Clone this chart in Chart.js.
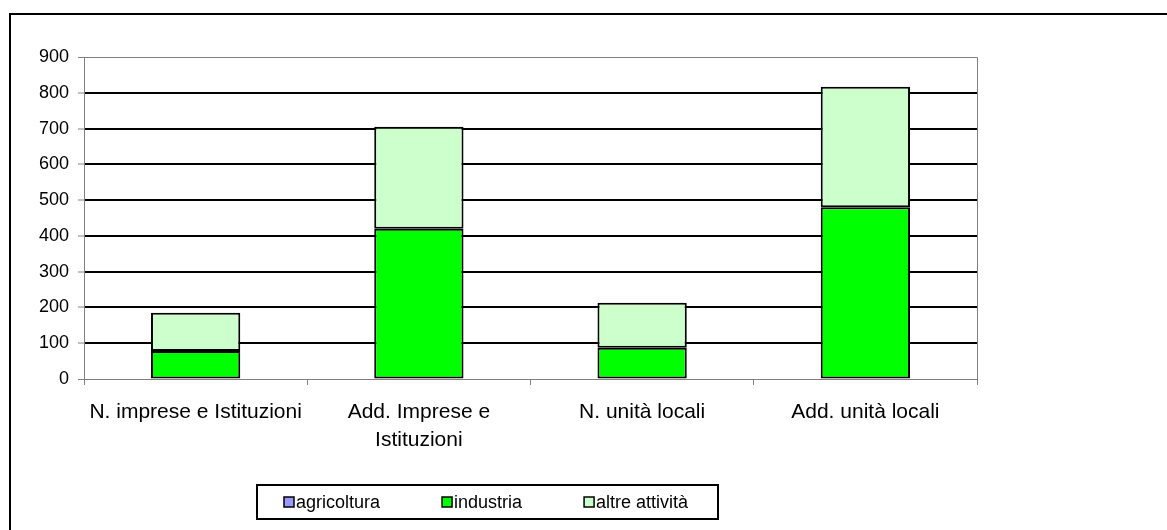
<!DOCTYPE html>
<html>
<head>
<meta charset="utf-8">
<script src="https://cdn.jsdelivr.net/npm/chart.js@4"></script>
<style>
  html, body { margin: 0; padding: 0; background: #fff; }
  #wrap { position: relative; width: 1167px; height: 530px; overflow: hidden; }
  canvas { position: absolute; left: 0; top: 0; }
</style>
</head>
<body>
<div id="wrap"><canvas id="grafico" width="1167" height="530"></canvas></div>
<script>
const categorie = ["N. imprese e Istituzioni", ["Add. Imprese e", "Istituzioni"], "N. unità locali", "Add. unità locali"];
const agricoltura = [0, 0, 0, 0];
const industria = [78, 420, 87, 480];
const altreAttivita = [107, 285, 126, 337];
const tickY = [0, 100, 200, 300, 400, 500, 600, 700, 800, 900];

const GRIGIO = "#808080";
const FONT = "'Liberation Sans', Arial, sans-serif";

Chart.defaults.font.family = FONT;
Chart.defaults.font.size = 18;
Chart.defaults.color = "#000";

// cornice esterna, bordo destro dell'area del grafico e legenda incorniciata
const decorazioni = {
    id: "decorazioni",
    beforeDraw(chart) {
        const ctx = chart.ctx;
        ctx.save();
        ctx.strokeStyle = "#000";
        ctx.lineWidth = 2;
        ctx.beginPath();
        ctx.moveTo(10, 600);
        ctx.lineTo(10, 14);
        ctx.lineTo(1200, 14);
        ctx.stroke();
        ctx.restore();
    },
    afterDraw(chart) {
        const ctx = chart.ctx;
        const a = chart.chartArea;
        ctx.save();
        ctx.strokeStyle = GRIGIO;
        ctx.lineWidth = 1;
        ctx.beginPath();
        ctx.moveTo(a.left, a.top + 0.5);
        ctx.lineTo(Math.round(a.right) + 0.5, a.top + 0.5);
        ctx.lineTo(Math.round(a.right) + 0.5, a.bottom + 6);
        ctx.stroke();

        // legenda
        ctx.strokeStyle = "#000";
        ctx.lineWidth = 2;
        ctx.strokeRect(257, 485, 461, 34);
        ctx.font = "18px " + FONT;
        ctx.textBaseline = "middle";
        let x = 284;
        const y = 502;
        chart.data.datasets.forEach(ds => {
            ctx.fillStyle = ds.backgroundColor;
            ctx.fillRect(x, y - 5, 10, 10);
            ctx.strokeStyle = "#000";
            ctx.lineWidth = 1.5;
            ctx.strokeRect(x, y - 5, 10, 10);
            ctx.fillStyle = "#000";
            ctx.fillText(ds.label, x + 12, y + 1);
            x += 12 + ctx.measureText(ds.label).width + 62;
        });
        ctx.restore();
    }
};

new Chart(document.getElementById("grafico"), {
    type: "bar",
    data: {
        labels: categorie,
        datasets: [
            { label: "agricoltura", data: agricoltura, backgroundColor: "#9999ff" },
            { label: "industria", data: industria, backgroundColor: "#00ff00" },
            { label: "altre attività", data: altreAttivita, backgroundColor: "#ccffcc" }
        ].map(d => Object.assign(d, {
            borderColor: "#000",
            borderWidth: 2,
            borderSkipped: false,
            categoryPercentage: 1,
            barPercentage: 0.4
        }))
    },
    options: {
        responsive: false,
        animation: false,
        layout: { padding: { left: 20, right: 190, top: 57, bottom: 51 } },
        plugins: {
            legend: { display: false },
            tooltip: { enabled: false }
        },
        scales: {
            x: {
                stacked: true,
                afterFit(scale) { scale.height = 100; },
                border: { color: GRIGIO, width: 1 },
                grid: {
                    offset: true,
                    drawOnChartArea: false,
                    tickLength: 6,
                    tickColor: GRIGIO,
                    tickWidth: 1
                },
                ticks: {
                    maxRotation: 0,
                    autoSkip: false,
                    padding: 14,
                    font: { size: 21, lineHeight: 1.3 }
                }
            },
            y: {
                stacked: true,
                min: tickY[0],
                max: tickY[tickY.length - 1],
                afterFit(scale) { scale.width = 64; },
                afterBuildTicks(scale) { scale.ticks = tickY.map(v => ({ value: v })); },
                border: { color: GRIGIO, width: 1 },
                grid: {
                    color: c => (c.tick && (c.tick.value === 0 || c.tick.value === 900)) ? GRIGIO : "#000",
                    lineWidth: c => (c.tick && (c.tick.value === 0 || c.tick.value === 900)) ? 1 : 2,
                    tickLength: 6,
                    tickColor: GRIGIO,
                    tickWidth: 1
                },
                ticks: { padding: 9, font: { size: 18 } }
            }
        }
    },
    plugins: [decorazioni]
});
</script>
</body>
</html>
